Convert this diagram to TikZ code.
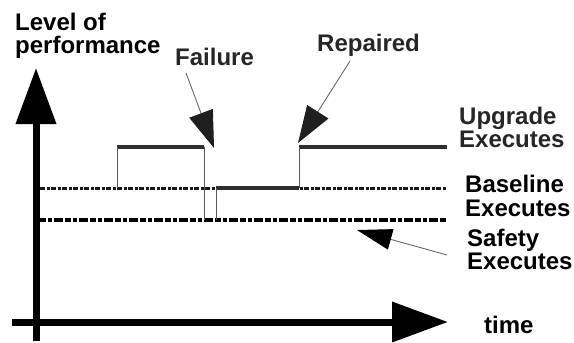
\documentclass[tikz,border=0pt]{standalone}
\usepackage{fontspec}
\setmainfont{Liberation Sans}
\usetikzlibrary{arrows.meta}

\begin{document}
\begin{tikzpicture}[x=1pt, y=-1pt,
        every node/.style = {inner sep=0pt, align=left, anchor=base west,
            font=\bfseries\fontsize{24}{23}\selectfont},
        axis/.style = {line width=7pt, -{Triangle[length=56pt, width=39pt]}},
        pointer/.style = {line width=0.9pt, black!60,
            -{Triangle[length=37pt, width=25pt, color=black!88]}},
        active/.style = {line width=3.5pt, black!82},
        jump/.style = {line width=0.8pt, black!65},
        baselvl/.style = {line width=3pt, black!90,
            dash pattern=on 5pt off 1.5pt on 3pt off 1.5pt},
        safelvl/.style = {line width=4pt,
            dash pattern=on 6pt off 2pt on 4pt off 2pt on 9pt off 2pt}]
    \useasboundingbox (0,0) rectangle (574,343);

    % axes
    \coordinate (ybot) at (36,341);
    \coordinate (ytip) at (36,68);
    \coordinate (xleft) at (12,322);
    \coordinate (xtip) at (448,322);
    \draw[axis] (ybot) -- (ytip);
    \draw[axis] (xleft) -- (xtip);

    % the three levels
    \draw[safelvl] (40,220) -- (447,220);
    \draw[baselvl] (40,188) -- (447,188);
    \draw[active] (117,147) -- (204,147);
    \draw[active] (216,188) -- (299,188);
    \draw[active] (299,147) -- (447,147);
    % steps between them
    \draw[jump] (117,188) -- (117,147);
    \draw[jump] (204,147) -- (204,220);
    \draw[jump] (216,220) -- (216,188);
    \draw[jump] (299,188) -- (299,147);

    % labels (base = last line)
    \node (level) at (15,53) {Level of\\performance};
    \node (time) at (484,333) {time};
    \node[black!85] (failure) at (175,65) {Failure};
    \node[black!85] (repaired) at (317,51) {Repaired};
    \node[black!85, font=\bfseries\fontsize{24}{19}\selectfont] (upgrade) at (459,147) {Upgrade\\Executes};
    \node[font=\bfseries\fontsize{24}{24}\selectfont] (baseline) at (465,216) {Baseline\\Executes};
    \node[font=\bfseries\fontsize{24}{19.5}\selectfont] (safety) at (467,269) {Safety\\Executes};

    % pointers
    \coordinate (failtip) at (214,148);
    \coordinate (reptip) at (298,143);
    \coordinate (safetip) at (357,230);
    \coordinate (failfrom) at (186,73);
    \coordinate (repfrom) at (350,61);
    \coordinate (safefrom) at (447,255);
    \draw[pointer] (failfrom) -- (failtip);
    \draw[pointer] (repfrom) -- (reptip);
    \draw[pointer, -{Triangle[length=35pt, width=21pt, color=black]}] (safefrom) -- (safetip);
\end{tikzpicture}
\end{document}
